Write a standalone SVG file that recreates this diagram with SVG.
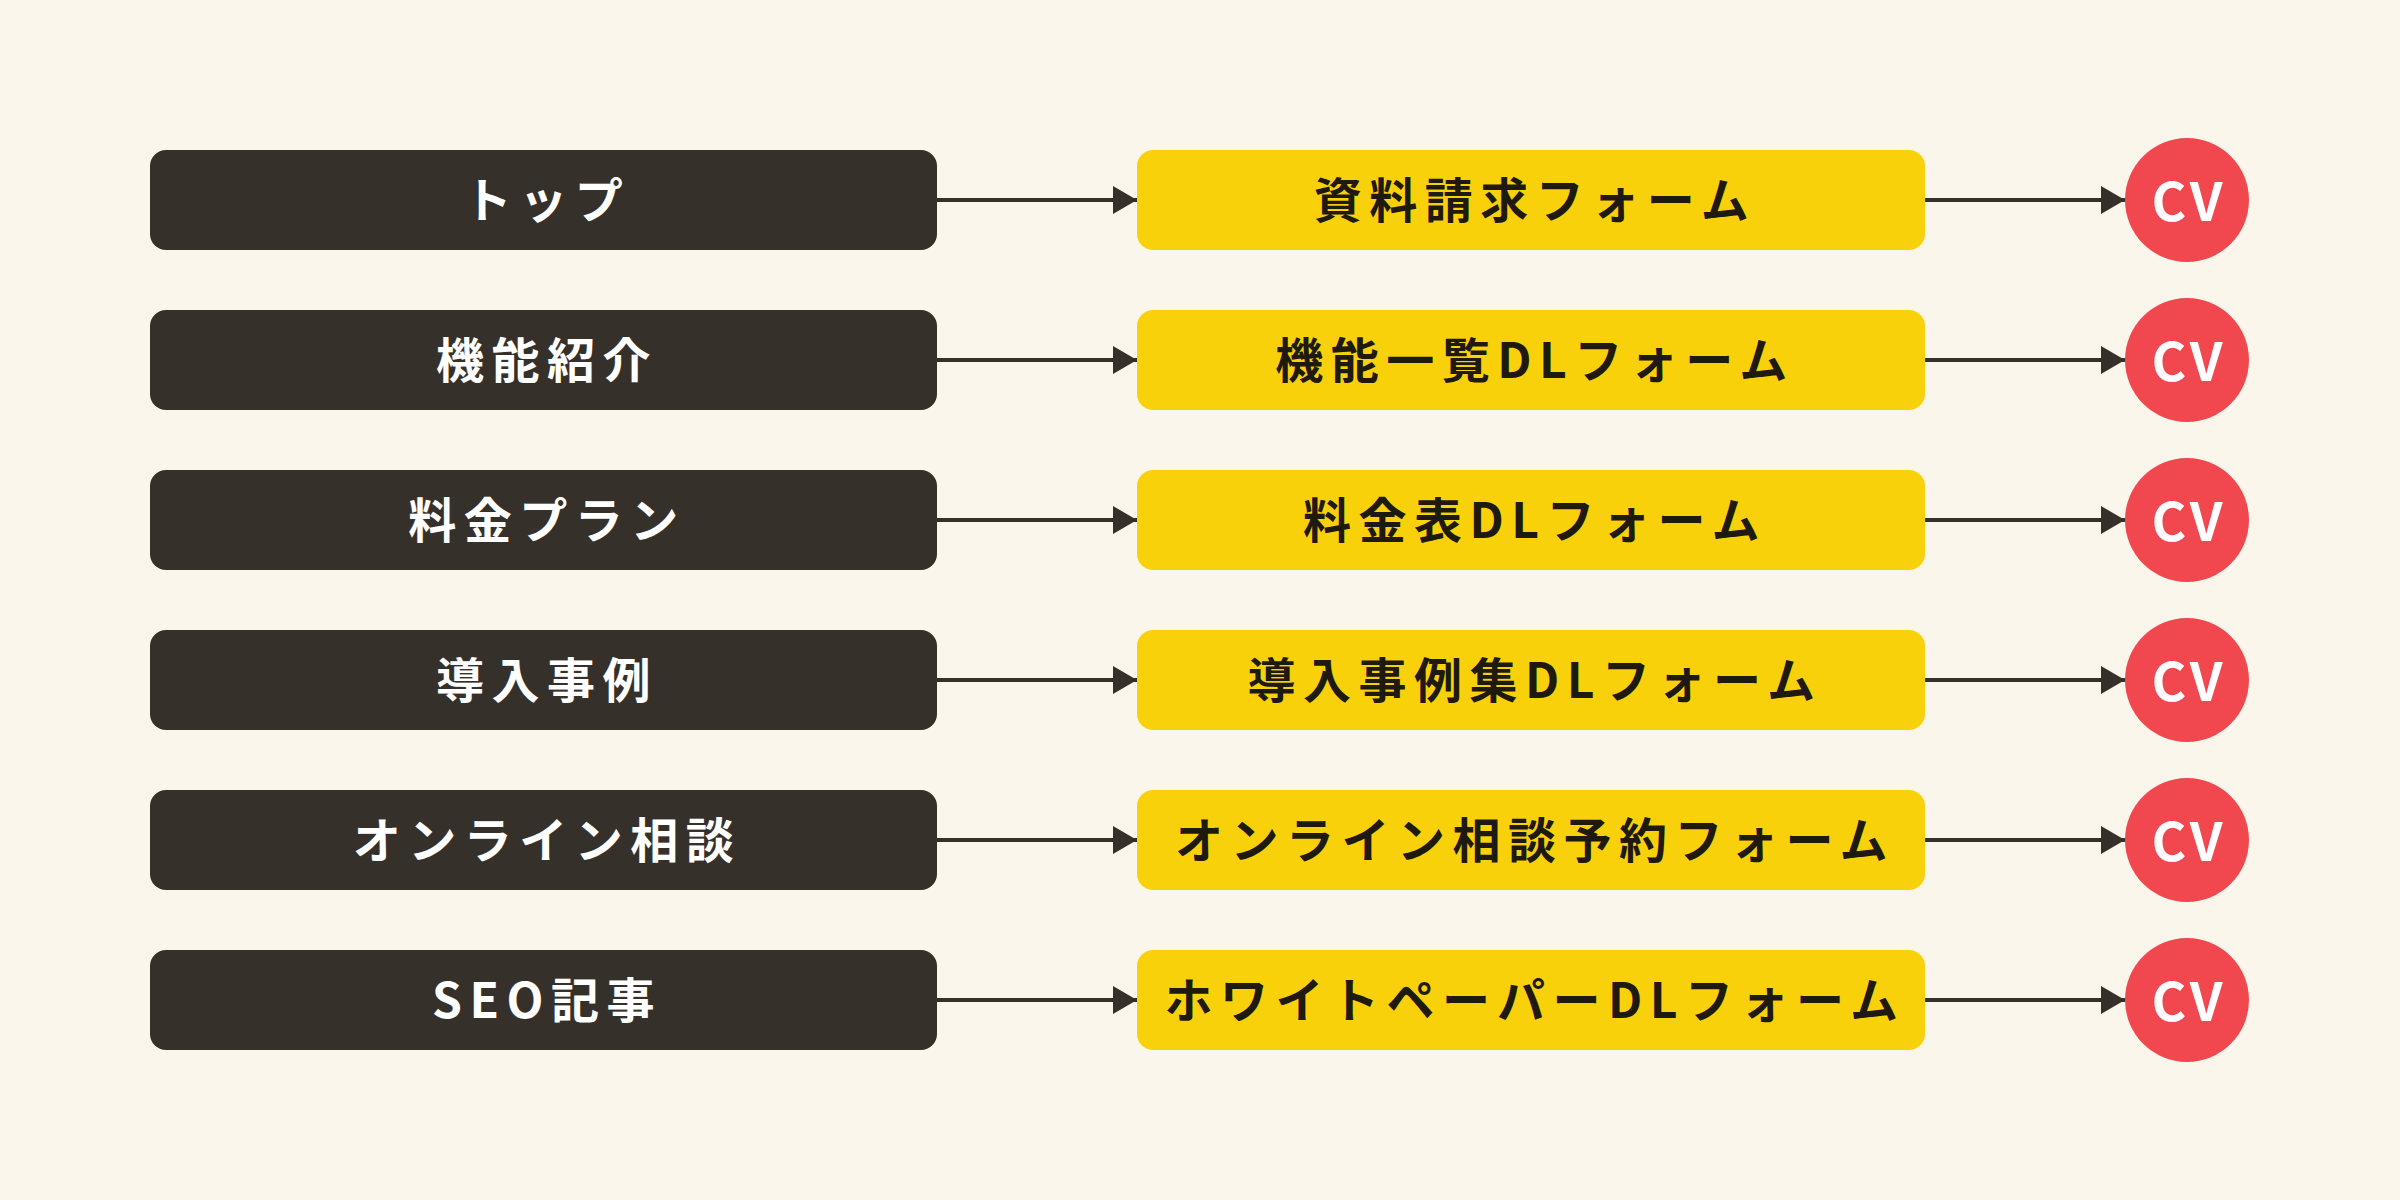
<svg xmlns="http://www.w3.org/2000/svg" width="2400" height="1200" viewBox="0 0 2400 1200">
<defs>
<style>
.src rect{fill:#35312a}
.dst rect{fill:#f9d10a}
.cv circle{fill:#f0484e}
text{font-family:"Noto Sans CJK JP","Noto Sans",sans-serif;font-weight:700;text-anchor:middle;dominant-baseline:central}
.src text{fill:#ffffff;font-size:48px;letter-spacing:7.5px}
.dst text{fill:#1f1a10;font-size:48px;letter-spacing:7.5px}
.cv text{fill:#ffffff;font-size:53px;letter-spacing:4px}
.edge{stroke:#35312a;stroke-width:4;fill:none}
</style>
<marker id="arr" markerUnits="userSpaceOnUse" markerWidth="24" markerHeight="28" refX="24" refY="14" orient="auto">
<path d="M0,0 L24,14 L0,28 Z" fill="#35312a"/>
</marker>
</defs>
<rect width="2400" height="1200" fill="#faf6eb"/>
<g id="connectors">
<path class="edge" marker-end="url(#arr)" d="M937,200H1137"/>
<path class="edge" marker-end="url(#arr)" d="M1925,200H2125"/>
<path class="edge" marker-end="url(#arr)" d="M937,360H1137"/>
<path class="edge" marker-end="url(#arr)" d="M1925,360H2125"/>
<path class="edge" marker-end="url(#arr)" d="M937,520H1137"/>
<path class="edge" marker-end="url(#arr)" d="M1925,520H2125"/>
<path class="edge" marker-end="url(#arr)" d="M937,680H1137"/>
<path class="edge" marker-end="url(#arr)" d="M1925,680H2125"/>
<path class="edge" marker-end="url(#arr)" d="M937,840H1137"/>
<path class="edge" marker-end="url(#arr)" d="M1925,840H2125"/>
<path class="edge" marker-end="url(#arr)" d="M937,1000H1137"/>
<path class="edge" marker-end="url(#arr)" d="M1925,1000H2125"/>
</g>
<g id="src1" class="src"><rect x="150" y="150" width="787" height="100" rx="16"/><text x="547" y="197">トップ</text></g>
<g id="src2" class="src"><rect x="150" y="310" width="787" height="100" rx="16"/><text x="547" y="357">機能紹介</text></g>
<g id="src3" class="src"><rect x="150" y="470" width="787" height="100" rx="16"/><text x="547" y="517">料金プラン</text></g>
<g id="src4" class="src"><rect x="150" y="630" width="787" height="100" rx="16"/><text x="547" y="677">導入事例</text></g>
<g id="src5" class="src"><rect x="150" y="790" width="787" height="100" rx="16"/><text x="547" y="837">オンライン相談</text></g>
<g id="src6" class="src"><rect x="150" y="950" width="787" height="100" rx="16"/><text x="547" y="997">SEO記事</text></g>
<g id="dst1" class="dst"><rect x="1137" y="150" width="788" height="100" rx="16"/><text x="1535" y="197">資料請求フォーム</text></g>
<g id="dst2" class="dst"><rect x="1137" y="310" width="788" height="100" rx="16"/><text x="1535" y="357">機能一覧DLフォーム</text></g>
<g id="dst3" class="dst"><rect x="1137" y="470" width="788" height="100" rx="16"/><text x="1535" y="517">料金表DLフォーム</text></g>
<g id="dst4" class="dst"><rect x="1137" y="630" width="788" height="100" rx="16"/><text x="1535" y="677">導入事例集DLフォーム</text></g>
<g id="dst5" class="dst"><rect x="1137" y="790" width="788" height="100" rx="16"/><text x="1535" y="837">オンライン相談予約フォーム</text></g>
<g id="dst6" class="dst"><rect x="1137" y="950" width="788" height="100" rx="16"/><text x="1535" y="997">ホワイトペーパーDLフォーム</text></g>
<g id="cv1" class="cv"><circle cx="2187" cy="200" r="62"/><text x="2189" y="198">CV</text></g>
<g id="cv2" class="cv"><circle cx="2187" cy="360" r="62"/><text x="2189" y="358">CV</text></g>
<g id="cv3" class="cv"><circle cx="2187" cy="520" r="62"/><text x="2189" y="518">CV</text></g>
<g id="cv4" class="cv"><circle cx="2187" cy="680" r="62"/><text x="2189" y="678">CV</text></g>
<g id="cv5" class="cv"><circle cx="2187" cy="840" r="62"/><text x="2189" y="838">CV</text></g>
<g id="cv6" class="cv"><circle cx="2187" cy="1000" r="62"/><text x="2189" y="998">CV</text></g>
</svg>
